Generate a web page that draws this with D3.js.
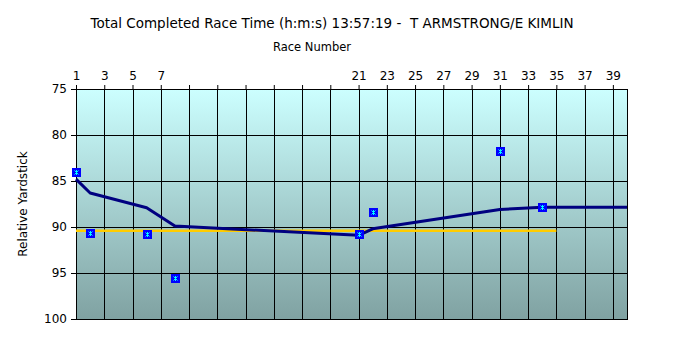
<!DOCTYPE html>
<html>
<head>
<meta charset="utf-8">
<script src="https://cdn.jsdelivr.net/npm/d3@7"></script>
<style>
  body { margin: 0; background: #fff; }
  text { font-family: Tahoma, "DejaVu Sans", sans-serif; fill: #000; }
</style>
</head>
<body>
<div id="chart"></div>
<script>
// Chart size
var svgWidth = 683;
var svgHeight = 362;

// Plot area (Excel-style chart)
var margin = { top: 89, right: 56, bottom: 43, left: 76 };
var width = svgWidth - margin.left - margin.right;
var height = svgHeight - margin.top - margin.bottom;

// Race categories on the x axis
var races = [1, 2, 3, 4, 5, 6, 7, 8, 9, 10, 11, 12, 13, 14, 15, 16, 17, 18, 19, 20,
  21, 22, 23, 24, 25, 26, 27, 28, 29, 30, 31, 32, 33, 34, 35, 36, 37, 38, 39, 40];

// Tick labels shown every second race (9-19 have no label)
var tickRaces = [1, 3, 5, 7, 9, 11, 13, 15, 17, 19, 21, 23, 25, 27, 29, 31, 33, 35, 37, 39];
var tickLabels = ["1", "3", "5", "7", "", "", "", "", "", "", "21", "23", "25", "27", "29", "31", "33", "35", "37", "39"];

// Individual race yardsticks (blue markers)
var pointRaces = [1, 2, 6, 8, 21, 22, 31, 34];
var pointValues = [84.0, 90.6, 90.8, 95.5, 90.8, 88.4, 81.7, 87.85];

// Running average (navy line)
var avgRaces = [1, 2, 6, 8, 21, 22, 31, 34, 40];
var avgValues = [84.8, 86.3, 87.9, 89.9, 90.9, 90.2, 88.1, 87.85, 87.85];

// Reference yardstick (gold line)
var refRaces = [1, 35];
var refValues = [90.4, 90.4];

// Y ticks
var yTicks = [75, 80, 85, 90, 95, 100];

var svg = d3.select("#chart")
  .append("svg")
  .attr("width", svgWidth)
  .attr("height", svgHeight);

var defs = svg.append("defs");
var grad = defs.append("linearGradient")
  .attr("id", "bg")
  .attr("x1", 0).attr("y1", 0)
  .attr("x2", 0).attr("y2", 1);
grad.append("stop").attr("offset", "0%").attr("stop-color", "#ccffff");
grad.append("stop").attr("offset", "100%").attr("stop-color", "#80a2a2");

var chartGroup = svg.append("g")
  .attr("transform", `translate(${margin.left}, ${margin.top})`);

// Scales
var xScale = d3.scalePoint()
  .domain(races)
  .range([0, width]);

var yScale = d3.scaleLinear()
  .domain([75, 100])
  .range([0, height]);

// Background
chartGroup.append("rect")
  .attr("width", width)
  .attr("height", height)
  .attr("fill", "url(#bg)");

// Gridlines
chartGroup.selectAll(".vgrid")
  .data(tickRaces)
  .enter()
  .append("line")
  .attr("x1", d => Math.round(xScale(d)) + 0.5)
  .attr("x2", d => Math.round(xScale(d)) + 0.5)
  .attr("y1", 0)
  .attr("y2", height)
  .attr("stroke", "#000")
  .attr("stroke-width", 1);

chartGroup.selectAll(".hgrid")
  .data(yTicks)
  .enter()
  .append("line")
  .attr("x1", 0)
  .attr("x2", width)
  .attr("y1", d => Math.round(yScale(d)) + 0.5)
  .attr("y2", d => Math.round(yScale(d)) + 0.5)
  .attr("stroke", "#000")
  .attr("stroke-width", 1);

// Plot border
chartGroup.append("rect")
  .attr("x", 0.5)
  .attr("y", 0.5)
  .attr("width", width)
  .attr("height", height)
  .attr("fill", "none")
  .attr("stroke", "#000")
  .attr("stroke-width", 1);

// Axes
var topAxis = d3.axisTop(xScale)
  .tickValues(tickRaces)
  .tickFormat((d, i) => tickLabels[i])
  .tickSize(4)
  .tickPadding(5);

var leftAxis = d3.axisLeft(yScale)
  .tickValues(yTicks)
  .tickSize(5)
  .tickPadding(4);

var xAxis = chartGroup.append("g").call(topAxis);
var yAxis = chartGroup.append("g").call(leftAxis);

[xAxis, yAxis].forEach(function(ax) {
  ax.select(".domain").remove();
  ax.selectAll("line").attr("stroke", "#000").attr("stroke-width", 1);
  ax.selectAll("text")
    .attr("font-family", "Tahoma, 'DejaVu Sans', sans-serif")
    .attr("font-size", "12px");
});

// Reference line
var refLine = d3.line()
  .x(d => xScale(d[0]))
  .y(d => yScale(d[1]));

chartGroup.append("path")
  .datum(refRaces.map((r, i) => [r, refValues[i]]))
  .attr("d", refLine)
  .attr("fill", "none")
  .attr("stroke", "#ffcc00")
  .attr("stroke-width", 2.5);

// Running average line
chartGroup.append("path")
  .datum(avgRaces.map((r, i) => [r, avgValues[i]]))
  .attr("d", refLine)
  .attr("fill", "none")
  .attr("stroke", "#000080")
  .attr("stroke-width", 3)
  .attr("stroke-linejoin", "round");

// Markers: blue square with small cyan star
var markers = chartGroup.selectAll(".marker")
  .data(pointRaces.map((r, i) => [r, pointValues[i]]))
  .enter()
  .append("g")
  .attr("transform", d => `translate(${Math.round(xScale(d[0])) + 0.5}, ${Math.round(yScale(d[1])) + 0.5})`);

markers.append("rect")
  .attr("x", -4.5)
  .attr("y", -4.5)
  .attr("width", 9)
  .attr("height", 9)
  .attr("fill", "#0000ff");

markers.append("path")
  .attr("d", "M0,-2.5V2.5M-2,-2L2,2M2,-2L-2,2")
  .attr("stroke", "#00ffff")
  .attr("stroke-width", 1)
  .attr("fill", "none");

// Titles
svg.append("text")
  .attr("x", 332)
  .attr("y", 28)
  .attr("text-anchor", "middle")
  .attr("font-size", "13.5px")
  .attr("xml:space", "preserve")
  .text("Total Completed Race Time (h:m:s) 13:57:19 -  T ARMSTRONG/E KIMLIN");

svg.append("text")
  .attr("x", 312)
  .attr("y", 51)
  .attr("text-anchor", "middle")
  .attr("font-size", "11.5px")
  .text("Race Number");

svg.append("text")
  .attr("transform", `translate(27, ${margin.top + height / 2}) rotate(-90)`)
  .attr("text-anchor", "middle")
  .attr("font-size", "12px")
  .text("Relative Yardstick");
</script>
</body>
</html>
